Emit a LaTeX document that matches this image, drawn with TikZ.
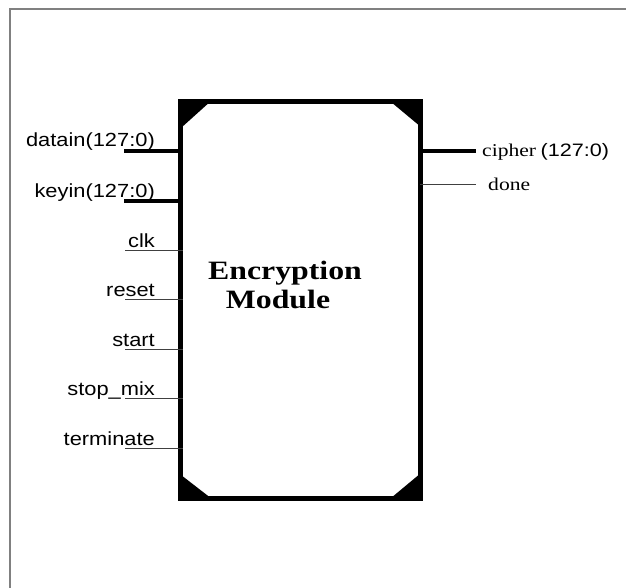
\documentclass[tikz,border=0pt]{standalone}
\usepackage{fontspec}
\setmainfont{Liberation Serif}
\setsansfont{Liberation Sans}
\usetikzlibrary{positioning}

\newcommand{\wider}[2][1.2]{\scalebox{#1}[1]{#2}}

\tikzset{
  pinlbl/.style={font=\sffamily\fontsize{19}{19}\selectfont,inner sep=0pt},
  outlbl/.style={font=\fontsize{18}{18}\selectfont,inner sep=0pt},
  buspin/.style={line width=3.5pt},
  sigpin/.style={line width=1pt,black!75},
}

\begin{document}
\begin{tikzpicture}[x=1pt,y=-1pt]
  \useasboundingbox (0,0) rectangle (626,588);
  % frame
  \draw[gray,line width=1.5pt] (10,588) -- (10,9) -- (626,9);

  \node[draw,line width=5pt,outer sep=0pt,minimum width=240pt,minimum height=397pt] (mod) at (300.4,300) {};
  \fill (mod.north west) -- ++(30,0) -- ++(-30,27) -- cycle;
  \fill (mod.north east) -- ++(-30,0) -- ++(30,25) -- cycle;
  \fill (mod.south west) -- ++(31,0) -- ++(-31,-24) -- cycle;
  \fill (mod.south east) -- ++(-30,0) -- ++(30,-25) -- cycle;
  \node[align=center,font=\bfseries\fontsize{26.5}{29}\selectfont] (title) at (285,285) {\wider{Encryption}\\\wider{Module}\hspace*{14pt}};

  % inputs
  \coordinate (datain) at (124,151);
  \coordinate (keyin) at (124,201);
  \draw[buspin] (datain) -- (mod.west |- datain);
  \draw[buspin] (keyin) -- (mod.west |- keyin);
  \node[pinlbl,anchor=base east] (datainlbl) at (155,147) {\wider[1.15]{datain(127:0)}};
  \node[pinlbl,anchor=base east] (keyinlbl) at (155,197) {\wider[1.15]{keyin(127:0)}};
  \foreach \nm/\txt/\yy in {clk/clk/250,reset/reset/299,start/start/349,stopmix/stop\_mix/398,terminate/terminate/448}{
    \coordinate (\nm) at (125,\yy);
    \draw[sigpin] (\nm) -- ([xshift=3pt]mod.west |- \nm);
    \node[pinlbl,anchor=base east] (\nm lbl) at (155,\yy-3) {\wider[1.15]{\txt}};
  }

  % outputs
  \coordinate (cipher) at (476,151);
  \coordinate (done) at (476,185);
  \draw[buspin] (mod.east |- cipher) -- (cipher);
  \draw[sigpin] (mod.east |- done) -- (done);
  \node[outlbl,anchor=base west] (cipherlbl) at (482,157) {\wider{cipher} \wider{\sffamily(127:0)}};
  \node[outlbl,anchor=base west] (donelbl) at (488,190) {\wider{done}};
\end{tikzpicture}
\end{document}
